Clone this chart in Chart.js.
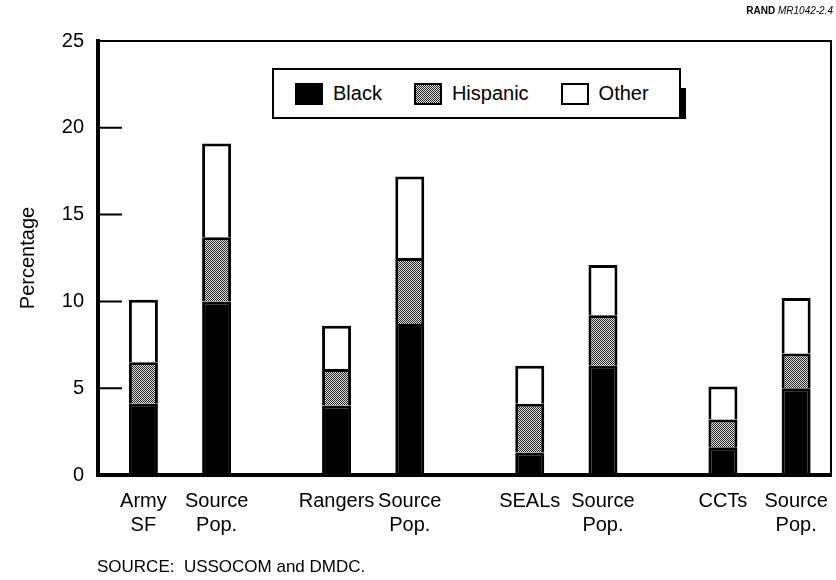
<!DOCTYPE html>
<html lang="en">
<head>
<meta charset="UTF-8">
<title>Minorities in SOF units and their source populations</title>
<script src="https://cdn.jsdelivr.net/npm/chart.js@4"></script>
<style>
  body { margin: 0; background: #fff; }
  #wrap { position: relative; width: 836px; height: 580px; font-family: 'Liberation Sans', Arial, Helvetica, sans-serif; color: #000; }
  #chart { position: absolute; left: 0; top: 0; }
  #tag { position: absolute; right: 3px; top: 5px; font-size: 10px; }
  #source { position: absolute; left: 97px; top: 557px; font-size: 17px; white-space: pre; }
  #legend { position: absolute; left: 272px; top: 68px; width: 409px; height: 51px; box-sizing: border-box;
            border: 2px solid #000; background: #fff; display: flex; align-items: center;
            padding-left: 21px; gap: 32px; font-size: 20px; }
  #legend::after { content: ''; position: absolute; right: -7px; top: 18px; bottom: -2px; width: 5px; background: #000; }
  .item { display: flex; align-items: center; }
  .swatch { width: 28px; height: 22px; box-sizing: border-box; border: 2px solid #000; margin-right: 10px; }
</style>
</head>
<body>
<div id="wrap">
  <canvas id="chart" width="836" height="580"></canvas>
  <div id="tag"><b>RAND</b> <i>MR1042-2.4</i></div>
  <div id="legend"></div>
  <div id="source">SOURCE:  USSOCOM and DMDC.</div>
</div>
<script>
// groups: each has the unit bar and its source population bar
const groups = ['Army SF', 'Rangers', 'SEALs', 'CCTs'];
const unitLabels = [['Army', 'SF'], ['Rangers'], ['SEALs'], ['CCTs']];
const sourceLabel = ['Source', 'Pop.'];
const yTicks = [0, 5, 10, 15, 20, 25];

// percent of each bar, stacked segments
const blackUnit = [4.1, 4.0, 1.3, 1.6];
const hispanicUnit = [2.4, 2.1, 2.8, 1.6];
const otherUnit = [3.6, 2.5, 2.2, 1.9];
const blackSource = [10.0, 8.7, 6.3, 5.0];
const hispanicSource = [3.7, 3.8, 2.9, 2.0];
const otherSource = [5.4, 4.7, 2.9, 3.2];

// grey dither like the printed screen
function stipple() {
    const c = document.createElement('canvas');
    c.width = 2; c.height = 2;
    const g = c.getContext('2d');
    g.fillStyle = '#e8e8e8';
    g.fillRect(0, 0, 2, 2);
    g.fillStyle = '#1e1e1e';
    g.fillRect(0, 0, 1, 1);
    g.fillRect(1, 1, 1, 1);
    return g.createPattern(c, 'repeat');
}

const fills = { Black: '#000', Hispanic: stipple(), Other: '#fff' };
const swatchCss = {
    Black: '#000',
    Hispanic: 'repeating-conic-gradient(#1e1e1e 0 25%, #e8e8e8 0 50%) 0 0 / 2px 2px',
    Other: '#fff'
};

function ds(label, values, stack) {
    return {
        label: label,
        stack: stack,
        data: values.map((v, i) => ({ x: i, y: v })),   // x = group index
        backgroundColor: fills[label],
        borderColor: '#000',
        borderWidth: 3
    };
}

const FONT = "'Liberation Sans', Arial, Helvetica, sans-serif";

// frame, inner tick marks and the bar labels under the axis
const framePlugin = {
    id: 'frame',
    afterDatasetsDraw(chart) {
        const { ctx, chartArea: a, scales: { y } } = chart;
        ctx.save();
        ctx.strokeStyle = '#000';
        ctx.lineWidth = 2;
        ctx.beginPath();
        ctx.moveTo(a.left, a.top);
        ctx.lineTo(a.right, a.top);
        ctx.lineTo(a.right, a.bottom);
        y.ticks.forEach(t => {
            const py = y.getPixelForValue(t.value);
            ctx.moveTo(a.left, py);
            ctx.lineTo(a.left + 24, py);
        });
        ctx.stroke();

        ctx.fillStyle = '#000';
        ctx.font = '20px ' + FONT;
        ctx.textAlign = 'center';
        ctx.textBaseline = 'alphabetic';
        chart.data.datasets.forEach((d, di) => {
            if (d.label !== 'Black') return;
            chart.getDatasetMeta(di).data.forEach((bar, i) => {
                const lines = d.stack === 'unit' ? unitLabels[i] : sourceLabel;
                lines.forEach((s, k) => ctx.fillText(s, bar.x, a.bottom + 32 + k * 24));
            });
        });
        ctx.restore();
    }
};

const chart = new Chart(document.getElementById('chart'), {
    type: 'bar',
    data: {
        datasets: [
            ds('Black', blackUnit, 'unit'),
            ds('Hispanic', hispanicUnit, 'unit'),
            ds('Other', otherUnit, 'unit'),
            ds('Black', blackSource, 'source'),
            ds('Hispanic', hispanicSource, 'source'),
            ds('Other', otherSource, 'source')
        ]
    },
    options: {
        responsive: false,
        animation: false,
        layout: { padding: { top: 41, right: 5, bottom: 105, left: 0 } },
        datasets: { bar: { categoryPercentage: 0.758, barPercentage: 0.396 } },
        plugins: { legend: { display: false }, tooltip: { enabled: false } },
        scales: {
            x: {
                type: 'linear',
                offset: false,
                stacked: true,
                min: -0.4245,
                max: 3.37,
                grid: { display: false, drawTicks: false, offset: false },
                ticks: { display: false },
                border: { width: 4, color: '#000' },
                afterBuildTicks: s => { s.ticks = groups.map((g, i) => ({ value: i })); }
            },
            y: {
                stacked: true,
                min: 0,
                max: 25,
                grid: { display: false, drawTicks: false },
                border: { width: 4, color: '#000' },
                ticks: { padding: 14, color: '#000', font: { family: FONT, size: 20 } },
                afterBuildTicks: s => { s.ticks = yTicks.map(v => ({ value: v })); },
                title: {
                    display: true, text: 'Percentage', color: '#000',
                    font: { family: FONT, size: 20 }, padding: { top: 16, bottom: 0 }
                },
                afterFit: s => { s.width = 98; }
            }
        }
    },
    plugins: [framePlugin]
});

// boxed legend, built from the unit datasets
const legend = document.getElementById('legend');
chart.data.datasets.filter(d => d.stack === 'unit').forEach(d => {
    const item = document.createElement('div');
    item.className = 'item';
    const sw = document.createElement('span');
    sw.className = 'swatch';
    sw.style.background = swatchCss[d.label];
    item.appendChild(sw);
    item.appendChild(document.createTextNode(d.label));
    legend.appendChild(item);
});
</script>
</body>
</html>
